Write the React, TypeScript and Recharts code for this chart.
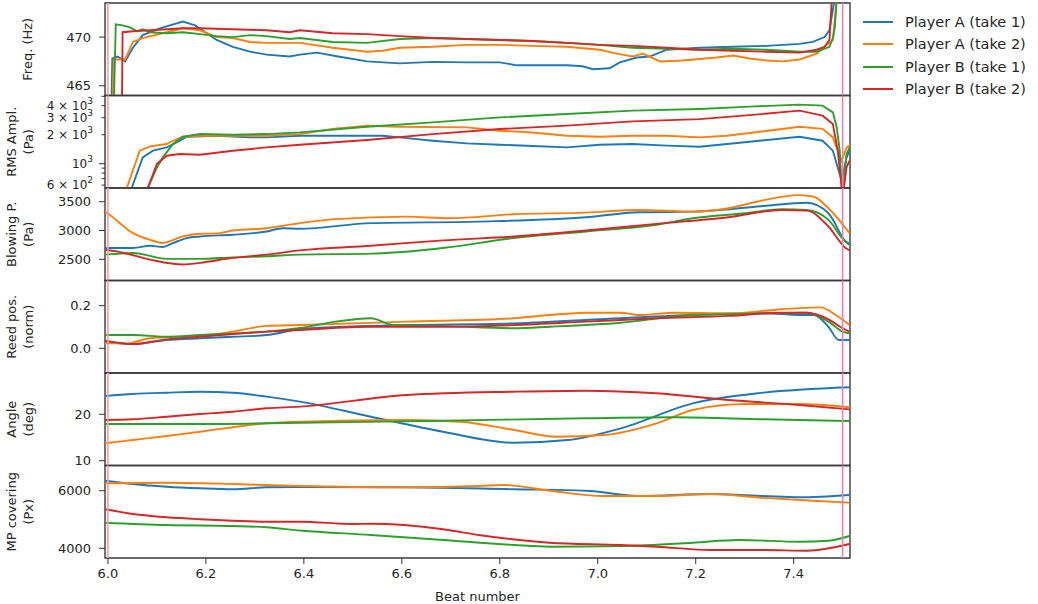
import React from 'react'
import { LineChart, Line, XAxis, YAxis, ReferenceLine, ReferenceArea, Legend } from 'recharts'

type Pt = [number, number]

// ---- labels / ticks ----
const seriesNames = ['Player A (take 1)', 'Player A (take 2)', 'Player B (take 1)', 'Player B (take 2)']
const beatTicks = [6.0, 6.2, 6.4, 6.6, 6.8, 7.0, 7.2, 7.4]
const markerBeats = [6.0, 7.5]
const freqTicks = [465, 470]
const rmsTicks = [600, 700, 800, 900, 1000, 2000, 3000, 4000, 5000]
const rmsLabelled = [600, 1000, 2000, 3000, 4000]
const blowTicks = [2500, 3000, 3500]
const reedTicks = [0.0, 0.2]
const angleTicks = [10, 20]
const mpTicks = [4000, 6000]

// ---- Freq. (Hz) ----
const freqA1: Pt[] = [[6.0, 460], [6.007, 463], [6.009, 467.8], [6.02, 468.0], [6.035, 467.5], [6.051, 468.9], [6.071, 470.2], [6.106, 470.9], [6.153, 471.6], [6.178, 471.2], [6.222, 469.7], [6.255, 469.0], [6.29, 468.5], [6.324, 468.2], [6.371, 468.0], [6.392, 468.2], [6.427, 468.4], [6.47, 468.0], [6.529, 467.5], [6.596, 467.3], [6.663, 467.45], [6.733, 467.4], [6.8, 467.4], [6.835, 467.1], [6.937, 467.1], [6.969, 467.0], [6.99, 466.7], [7.024, 466.8], [7.045, 467.4], [7.08, 467.9], [7.106, 468.0], [7.141, 468.7], [7.208, 468.9], [7.276, 469.0], [7.345, 469.1], [7.412, 469.3], [7.439, 469.5], [7.463, 470.0], [7.473, 470.7], [7.484, 474], [7.5, 478], [7.515, 478]]
const freqA2: Pt[] = [[6.0, 460], [6.009, 463], [6.012, 467.7], [6.035, 467.7], [6.051, 469.5], [6.071, 469.9], [6.12, 470.5], [6.153, 470.9], [6.188, 470.7], [6.222, 470.0], [6.255, 469.9], [6.29, 469.5], [6.324, 469.4], [6.371, 469.4], [6.392, 469.4], [6.459, 468.9], [6.529, 468.5], [6.561, 468.6], [6.596, 468.9], [6.663, 469.0], [6.733, 469.2], [6.8, 469.2], [6.867, 469.1], [6.937, 469.0], [7.004, 468.7], [7.039, 468.3], [7.071, 468.0], [7.092, 468.3], [7.127, 467.5], [7.173, 467.6], [7.243, 467.9], [7.276, 468.1], [7.31, 467.8], [7.345, 467.6], [7.378, 467.5], [7.412, 467.7], [7.447, 468.3], [7.463, 469.0], [7.48, 469.7], [7.488, 474], [7.5, 478], [7.515, 478]]
const freqB1: Pt[] = [[6.0, 460], [6.012, 463], [6.016, 471.3], [6.03, 471.2], [6.045, 471.0], [6.06, 470.6], [6.071, 470.8], [6.086, 470.5], [6.12, 470.4], [6.153, 470.5], [6.188, 470.3], [6.222, 470.1], [6.255, 470.0], [6.29, 470.2], [6.324, 470.1], [6.371, 469.8], [6.392, 469.9], [6.459, 469.5], [6.529, 469.4], [6.596, 469.8], [6.663, 469.9], [6.733, 469.8], [6.8, 469.7], [6.867, 469.6], [6.937, 469.4], [7.004, 469.2], [7.071, 468.9], [7.141, 468.8], [7.208, 468.7], [7.276, 468.8], [7.345, 468.7], [7.412, 468.5], [7.447, 468.5], [7.473, 469.0], [7.48, 469.9], [7.484, 471], [7.488, 474], [7.5, 478], [7.515, 478]]
const freqB2: Pt[] = [[6.0, 460], [6.028, 460], [6.03, 470.5], [6.051, 470.6], [6.086, 470.7], [6.12, 470.8], [6.153, 470.9], [6.188, 470.9], [6.255, 470.8], [6.324, 470.7], [6.371, 470.5], [6.392, 470.7], [6.459, 470.4], [6.529, 470.3], [6.596, 470.1], [6.663, 469.9], [6.733, 469.8], [6.8, 469.7], [6.867, 469.6], [6.937, 469.4], [7.004, 469.2], [7.071, 469.1], [7.141, 468.9], [7.208, 468.7], [7.276, 468.6], [7.345, 468.5], [7.412, 468.4], [7.447, 468.7], [7.463, 469.0], [7.473, 469.7], [7.478, 474], [7.5, 478], [7.515, 478]]

// ---- RMS Ampl. (Pa) ----
const rmsA1: Pt[] = [[6.0, 300], [6.049, 570], [6.071, 1163], [6.092, 1365], [6.12, 1477], [6.147, 1735], [6.161, 1905], [6.222, 1950], [6.29, 1875], [6.324, 1875], [6.392, 1950], [6.459, 1950], [6.561, 1950], [6.596, 1875], [6.663, 1733], [6.733, 1625], [6.8, 1575], [6.867, 1527], [6.937, 1477], [7.004, 1575], [7.071, 1600], [7.141, 1540], [7.208, 1500], [7.31, 1690], [7.412, 1905], [7.459, 1733], [7.48, 1365], [7.49, 915], [7.498, 665], [7.508, 1163], [7.515, 1400]]
const rmsA2: Pt[] = [[6.0, 300], [6.039, 570], [6.065, 1365], [6.086, 1512], [6.12, 1600], [6.133, 1730], [6.153, 1905], [6.188, 1950], [6.255, 1950], [6.324, 1950], [6.392, 2030], [6.459, 2290], [6.529, 2480], [6.596, 2420], [6.733, 2380], [6.8, 2200], [6.867, 2110], [6.937, 1950], [7.004, 1905], [7.071, 1950], [7.141, 1950], [7.208, 1875], [7.263, 1950], [7.31, 2080], [7.412, 2420], [7.459, 2300], [7.48, 1875], [7.49, 1365], [7.498, 1075], [7.508, 1477], [7.515, 1550]]
const rmsB1: Pt[] = [[6.0, 300], [6.082, 570], [6.1, 915], [6.112, 1163], [6.133, 1600], [6.153, 1905], [6.188, 2030], [6.255, 2000], [6.324, 2030], [6.392, 2113], [6.529, 2421], [6.663, 2685], [6.8, 3027], [6.937, 3282], [7.071, 3550], [7.208, 3697], [7.31, 3909], [7.412, 4100], [7.459, 4000], [7.48, 3410], [7.488, 2380], [7.494, 1365], [7.498, 570], [7.5, 450], [7.508, 1270], [7.515, 1500]]
const rmsB2: Pt[] = [[6.0, 300], [6.082, 570], [6.1, 1000], [6.12, 1210], [6.147, 1260], [6.188, 1240], [6.255, 1365], [6.324, 1477], [6.392, 1575], [6.529, 1763], [6.663, 2030], [6.8, 2290], [6.937, 2482], [7.071, 2750], [7.208, 2900], [7.31, 3190], [7.412, 3550], [7.459, 3150], [7.48, 2580], [7.49, 1365], [7.498, 570], [7.5, 450], [7.508, 920], [7.514, 1075]]

// ---- Blowing P. (Pa) ----
const blowA1: Pt[] = [[5.994, 2697], [6.051, 2697], [6.086, 2736], [6.112, 2713], [6.133, 2783], [6.161, 2869], [6.188, 2897], [6.255, 2926], [6.324, 2983], [6.357, 3040], [6.392, 3030], [6.537, 3128], [6.757, 3155], [6.976, 3230], [7.084, 3317], [7.194, 3328], [7.267, 3369], [7.339, 3426], [7.427, 3483], [7.471, 3300], [7.506, 2810], [7.514, 2753]]
const blowA2: Pt[] = [[5.994, 3328], [6.004, 3270], [6.051, 2955], [6.086, 2840], [6.112, 2783], [6.153, 2897], [6.188, 2943], [6.222, 2950], [6.255, 3000], [6.324, 3040], [6.392, 3128], [6.465, 3197], [6.61, 3241], [6.698, 3213], [6.829, 3283], [6.976, 3310], [7.084, 3357], [7.194, 3328], [7.267, 3386], [7.324, 3500], [7.412, 3615], [7.441, 3586], [7.471, 3386], [7.514, 2955]]
const blowB1: Pt[] = [[5.994, 2581], [6.051, 2610], [6.12, 2507], [6.188, 2507], [6.255, 2534], [6.324, 2552], [6.392, 2581], [6.537, 2598], [6.684, 2697], [6.829, 2869], [6.976, 2983], [7.12, 3098], [7.194, 3213], [7.302, 3300], [7.376, 3369], [7.427, 3357], [7.471, 3184], [7.506, 2810], [7.514, 2780]]
const blowB2: Pt[] = [[5.994, 2667], [6.018, 2638], [6.086, 2495], [6.153, 2410], [6.188, 2438], [6.255, 2524], [6.324, 2581], [6.392, 2655], [6.537, 2736], [6.684, 2828], [6.829, 2897], [6.976, 3000], [7.12, 3116], [7.267, 3231], [7.376, 3357], [7.427, 3345], [7.471, 3069], [7.506, 2697], [7.514, 2655]]

// ---- Reed pos. (norm) ----
const reedA1: Pt[] = [[5.994, 0.031], [6.051, 0.020], [6.12, 0.039], [6.188, 0.047], [6.255, 0.054], [6.324, 0.062], [6.392, 0.09], [6.465, 0.1], [6.61, 0.109], [6.829, 0.117], [7.047, 0.141], [7.194, 0.156], [7.339, 0.164], [7.412, 0.156], [7.441, 0.156], [7.471, 0.101], [7.492, 0.039], [7.514, 0.039]]
const reedA2: Pt[] = [[5.994, 0.023], [6.039, 0.023], [6.086, 0.047], [6.188, 0.058], [6.255, 0.078], [6.324, 0.105], [6.392, 0.109], [6.61, 0.125], [6.829, 0.141], [6.902, 0.156], [6.976, 0.167], [7.047, 0.167], [7.084, 0.156], [7.157, 0.167], [7.267, 0.164], [7.376, 0.183], [7.455, 0.192], [7.486, 0.156], [7.514, 0.109]]
const reedB1: Pt[] = [[5.994, 0.062], [6.051, 0.062], [6.12, 0.054], [6.188, 0.062], [6.255, 0.070], [6.324, 0.078], [6.392, 0.095], [6.465, 0.125], [6.537, 0.141], [6.582, 0.109], [6.684, 0.105], [6.829, 0.094], [6.902, 0.101], [7.047, 0.120], [7.194, 0.156], [7.339, 0.164], [7.427, 0.167], [7.471, 0.125], [7.5, 0.078], [7.514, 0.070]]
const reedB2: Pt[] = [[5.994, 0.036], [6.051, 0.020], [6.12, 0.042], [6.188, 0.054], [6.255, 0.067], [6.324, 0.078], [6.392, 0.086], [6.537, 0.101], [6.684, 0.101], [6.829, 0.109], [6.976, 0.125], [7.12, 0.141], [7.267, 0.152], [7.376, 0.167], [7.427, 0.167], [7.471, 0.136], [7.5, 0.094], [7.514, 0.078]]

// ---- Angle (deg) ----
const angleA1: Pt[] = [[5.994, 23.94], [6.051, 24.37], [6.12, 24.66], [6.188, 24.87], [6.255, 24.66], [6.324, 23.8], [6.392, 22.72], [6.537, 19.48], [6.684, 16.25], [6.829, 13.88], [6.939, 14.46], [7.047, 16.98], [7.194, 22.37], [7.339, 24.66], [7.514, 25.82]]
const angleA2: Pt[] = [[5.994, 13.75], [6.051, 14.46], [6.12, 15.32], [6.188, 16.25], [6.255, 17.2], [6.324, 18.06], [6.392, 18.41], [6.61, 18.77], [6.72, 18.41], [6.829, 16.62], [6.916, 15.17], [7.012, 15.54], [7.12, 18.06], [7.194, 20.93], [7.302, 22.22], [7.412, 22.22], [7.514, 21.51]]
const angleB1: Pt[] = [[5.994, 17.9], [6.188, 17.9], [6.392, 18.19], [6.684, 18.62], [6.976, 19.14], [7.157, 19.35], [7.339, 18.92], [7.514, 18.56]]
const angleB2: Pt[] = [[5.994, 18.77], [6.051, 18.92], [6.12, 19.48], [6.188, 20.06], [6.255, 20.56], [6.324, 21.29], [6.392, 21.65], [6.61, 24.16], [6.829, 24.87], [6.976, 25.09], [7.12, 24.53], [7.267, 23.08], [7.412, 22.0], [7.514, 21.07]]

// ---- MP covering (Px) ----
const mpA1: Pt[] = [[5.994, 6347], [6.051, 6233], [6.12, 6139], [6.188, 6083], [6.255, 6049], [6.324, 6118], [6.392, 6130], [6.61, 6118], [6.829, 6049], [6.976, 6000], [7.084, 5816], [7.231, 5885], [7.339, 5816], [7.412, 5770], [7.514, 5850]]
const mpA2: Pt[] = [[5.994, 6257], [6.12, 6278], [6.255, 6233], [6.392, 6163], [6.61, 6118], [6.757, 6163], [6.808, 6198], [6.902, 6000], [7.012, 5816], [7.12, 5816], [7.231, 5885], [7.339, 5750], [7.45, 5640], [7.514, 5583]]
const mpB1: Pt[] = [[5.994, 4889], [6.12, 4809], [6.255, 4774], [6.324, 4729], [6.392, 4620], [6.537, 4462], [6.684, 4288], [6.829, 4115], [6.902, 4056], [7.047, 4080], [7.194, 4194], [7.288, 4288], [7.412, 4229], [7.471, 4264], [7.514, 4427]]
const mpB2: Pt[] = [[5.994, 5354], [6.051, 5191], [6.12, 5076], [6.188, 5007], [6.255, 4958], [6.324, 4924], [6.392, 4924], [6.502, 4843], [6.537, 4850], [6.684, 4660], [6.757, 4462], [6.902, 4194], [7.047, 4115], [7.12, 4056], [7.231, 3941], [7.339, 3941], [7.427, 3917], [7.514, 4149]]

const COLORS = ['#1f77b4', '#ff7f0e', '#2ca02c', '#d62728']
const MARKER_COLORS = ['#ff9c9c', '#e583b5']
const FONT = '"DejaVu Sans", Verdana, sans-serif'
const INK = '#262626'
const W = 1038
const H = 604
const PLOT_LEFT = 105
const PLOT_RIGHT = 850
const Y_AXIS_W = 60
const X_DOMAIN: [number, number] = [5.994, 7.515]

type PanelCfg = {
  title: string[]
  top: number
  bottom: number
  domain: [number, number]
  ticks: number[]
  series: Pt[][]
  log?: boolean
  curve: 'linear' | 'monotone'
  fmt: (v: number) => string
}

const panels: PanelCfg[] = [
  { title: ['Freq. (Hz)'], top: 3, bottom: 95.5, domain: [464, 473.5], ticks: freqTicks, series: [freqA1, freqA2, freqB1, freqB2], curve: 'linear', fmt: (v) => String(v) },
  { title: ['RMS Ampl.', '(Pa)'], top: 95.5, bottom: 188, domain: [560, 5100], ticks: rmsTicks, series: [rmsA1, rmsA2, rmsB1, rmsB2], log: true, curve: 'linear', fmt: (v) => String(v) },
  { title: ['Blowing P.', '(Pa)'], top: 188, bottom: 280.5, domain: [2132, 3738], ticks: blowTicks, series: [blowA1, blowA2, blowB1, blowB2], curve: 'monotone', fmt: (v) => String(v) },
  { title: ['Reed pos.', '(norm)'], top: 280.5, bottom: 373, domain: [-0.116, 0.318], ticks: reedTicks, series: [reedA1, reedA2, reedB1, reedB2], curve: 'monotone', fmt: (v) => v.toFixed(1) },
  { title: ['Angle', '(deg)'], top: 373, bottom: 465.5, domain: [8.97, 28.9], ticks: angleTicks, series: [angleA1, angleA2, angleB1, angleB2], curve: 'monotone', fmt: (v) => String(v) },
  { title: ['MP covering', '(Px)'], top: 465.5, bottom: 558, domain: [3663, 6875], ticks: mpTicks, series: [mpA1, mpA2, mpB1, mpB2], curve: 'monotone', fmt: (v) => String(v) },
]

const toRows = (pts: Pt[]) => pts.map(([x, y]) => ({ x, y }))

function YTick(props: any) {
  const { x, y, payload, fmt, log } = props
  const v = payload.value as number
  if (log) {
    const exp = Math.floor(Math.log10(v) + 1e-9)
    const mant = Math.round(v / Math.pow(10, exp))
    const labelled = rmsLabelled.includes(v)
    const major = mant === 1
    return (
      <g>
        <line x1={PLOT_LEFT - (major ? 6 : 3.5)} x2={PLOT_LEFT} y1={y} y2={y} stroke="#333" strokeWidth={1} />
        {labelled && (
          <text x={x + 2} y={y} textAnchor="end" dominantBaseline="central" fontSize={12} fill={INK} fontFamily={FONT}>
            <tspan>{major ? '10' : `${mant} × 10`}</tspan>
            <tspan dy={-5} fontSize={9}>{String(exp)}</tspan>
          </text>
        )}
      </g>
    )
  }
  return (
    <g>
      <line x1={PLOT_LEFT - 6} x2={PLOT_LEFT} y1={y} y2={y} stroke="#333" strokeWidth={1} />
      <text x={x} y={y} textAnchor="end" dominantBaseline="central" fontSize={13} fill={INK} fontFamily={FONT}>
        {fmt(v)}
      </text>
    </g>
  )
}

function AxisTitle({ lines, cy }: { lines: string[]; cy: number }) {
  const xs = lines.length === 1 ? [27] : [11, 28.5]
  return (
    <g>
      {lines.map((t, i) => (
        <text key={t} x={xs[i]} y={cy} transform={`rotate(-90 ${xs[i]} ${cy})`} textAnchor="middle" dominantBaseline="central" fontSize={13} fill={INK} fontFamily={FONT}>
          {t}
        </text>
      ))}
    </g>
  )
}

function XTitle() {
  return (
    <text x={(PLOT_LEFT + PLOT_RIGHT) / 2} y={596} textAnchor="middle" dominantBaseline="central" fontSize={13} fill={INK} fontFamily={FONT}>
      Beat number
    </text>
  )
}

function LegendBox(props: any) {
  const items = props.payload || []
  return (
    <div style={{ fontFamily: FONT, fontSize: 14.5, color: INK }}>
      {items.map((entry: any) => (
        <div key={entry.value} style={{ display: 'flex', alignItems: 'center', height: 22.3, whiteSpace: 'nowrap' }}>
          <svg width={30} height={4} style={{ display: 'block' }}>
            <line x1={0} x2={30} y1={2} y2={2} stroke={entry.color} strokeWidth={2} />
          </svg>
          <span style={{ marginLeft: 12 }}>{entry.value}</span>
        </div>
      ))}
    </div>
  )
}

function Panel({ cfg, index }: { cfg: PanelCfg; index: number }) {
  const last = index === panels.length - 1
  const xAxisH = last ? 44 : 0
  const cy = (cfg.top + cfg.bottom) / 2
  return (
    <div style={{ position: 'absolute', left: 0, top: 0 }}>
      <LineChart
        width={W}
        height={H}
        margin={{ top: cfg.top, bottom: H - cfg.bottom - xAxisH, left: PLOT_LEFT - Y_AXIS_W, right: W - PLOT_RIGHT }}
      >
        <XAxis
          dataKey="x"
          type="number"
          domain={X_DOMAIN}
          allowDataOverflow
          ticks={beatTicks}
          interval={0}
          hide={!last}
          height={xAxisH}
          axisLine={false}
          tickLine={{ stroke: '#333', strokeWidth: 1 }}
          tickSize={6}
          tickMargin={5}
          tick={{ fontSize: 13, fill: INK, fontFamily: FONT }}
          tickFormatter={(v: number) => v.toFixed(1)}
          label={last ? <XTitle /> : undefined}
        />
        <YAxis
          type="number"
          scale={cfg.log ? 'log' : 'linear'}
          domain={cfg.domain}
          allowDataOverflow
          ticks={cfg.ticks}
          interval={0}
          width={Y_AXIS_W}
          axisLine={false}
          tickLine={false}
          tickSize={6}
          tickMargin={8}
          tick={<YTick fmt={cfg.fmt} log={cfg.log} />}
          label={<AxisTitle lines={cfg.title} cy={cy} />}
        />
        {cfg.series.map((pts, i) => (
          <Line
            key={seriesNames[i]}
            data={toRows(pts)}
            dataKey="y"
            name={seriesNames[i]}
            type={cfg.curve}
            stroke={COLORS[i]}
            strokeWidth={1.9}
            dot={false}
            activeDot={false}
            isAnimationActive={false}
          />
        ))}
        {markerBeats.map((b, i) => (
          <ReferenceLine key={b} x={b} stroke={MARKER_COLORS[i]} strokeWidth={1.6} ifOverflow="visible" />
        ))}
        <ReferenceArea
          x1={X_DOMAIN[0]}
          x2={X_DOMAIN[1]}
          y1={cfg.domain[0]}
          y2={cfg.domain[1]}
          fill="none"
          fillOpacity={0}
          stroke="#3a3a3a"
          strokeWidth={1.4}
          ifOverflow="visible"
        />
        {index === 0 && (
          <Legend
            layout="horizontal"
            verticalAlign="middle"
            align="center"
            content={<LegendBox />}
            wrapperStyle={{ left: 863, top: 11, width: 175 }}
          />
        )}
      </LineChart>
    </div>
  )
}

export default function App() {
  return (
    <div style={{ position: 'absolute', left: 0, top: 0, width: W, height: H, background: '#fff' }}>
      {panels.map((cfg, i) => (
        <Panel key={cfg.title[0]} cfg={cfg} index={i} />
      ))}
    </div>
  )
}
